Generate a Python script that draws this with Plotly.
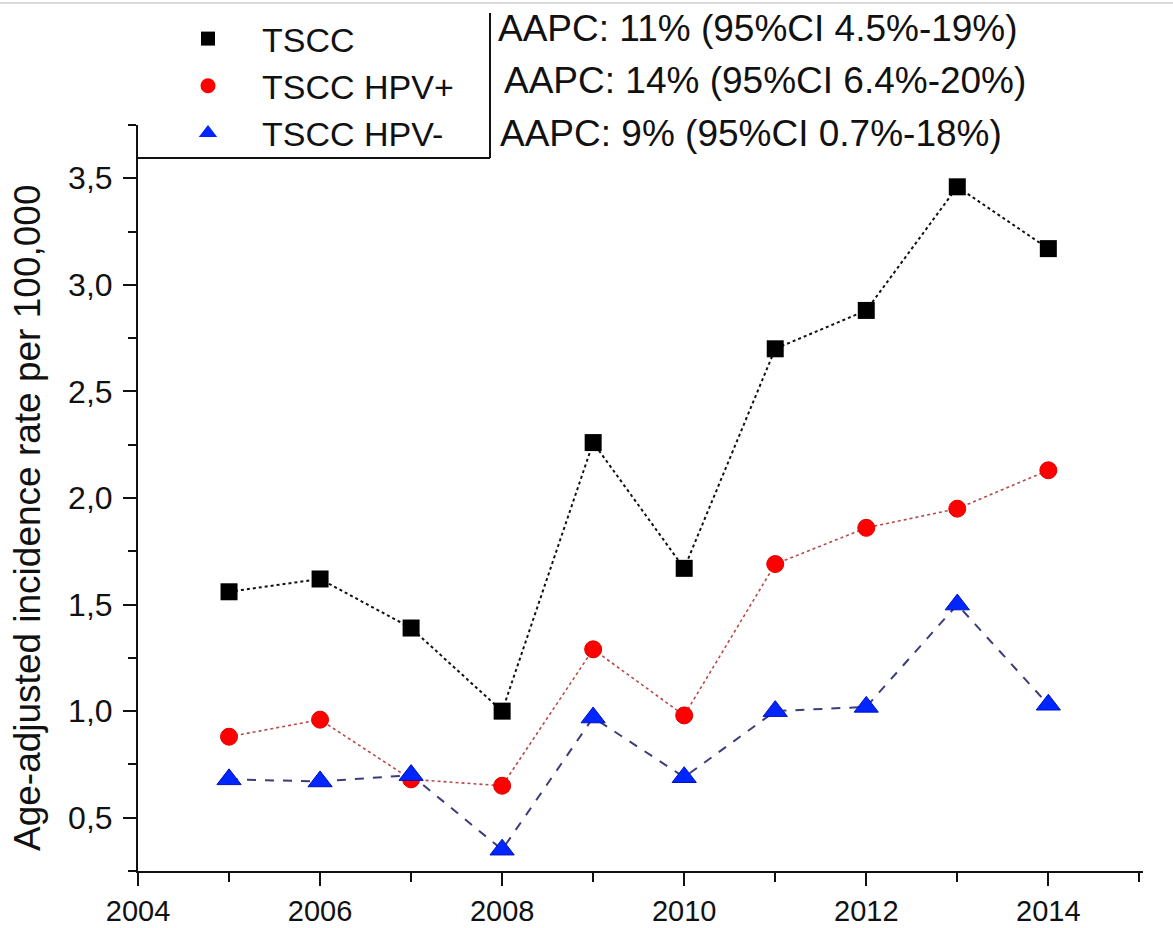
import plotly.graph_objects as go

years = [2005, 2006, 2007, 2008, 2009, 2010, 2011, 2012, 2013, 2014]
tscc = [1.56, 1.62, 1.39, 1.00, 2.26, 1.67, 2.70, 2.88, 3.46, 3.17]
hpv_pos = [0.88, 0.96, 0.68, 0.65, 1.29, 0.98, 1.69, 1.86, 1.95, 2.13]
hpv_neg = [0.68, 0.67, 0.70, 0.35, 0.97, 0.69, 1.00, 1.02, 1.50, 1.03]

series_names = ["TSCC", "TSCC HPV+", "TSCC HPV-"]
aapc_labels = [
    "AAPC: 11% (95%CI 4.5%-19%)",
    "AAPC: 14% (95%CI 6.4%-20%)",
    "AAPC: 9% (95%CI 0.7%-18%)",
]
x_ticks = [2004, 2006, 2008, 2010, 2012, 2014]
y_title = "Age-adjusted incidence rate per 100,000"

FONT = "Liberation Sans, Arial, sans-serif"

fig = go.Figure()

# data traces
fig.add_trace(go.Scatter(
    x=years, y=tscc, mode="lines+markers", showlegend=False,
    line=dict(color="#111111", width=2, dash="dot"),
    marker=dict(symbol="square", size=17, color="#000000"),
))
fig.add_trace(go.Scatter(
    x=years, y=hpv_pos, mode="lines+markers", showlegend=False,
    line=dict(color="#b84a4a", width=1.6, dash="dot"),
    marker=dict(symbol="circle", size=17, color="#ff0000", line=dict(color="#e00000", width=1)),
))
fig.add_trace(go.Scatter(
    x=years, y=hpv_neg, mode="lines+markers", showlegend=False,
    line=dict(color="#3c3c7a", width=2, dash="dash"),
    marker=dict(symbol="triangle-up", size=21, color="#0026ff", line=dict(color="#0010c0", width=1)),
))

# legend entries (markers only)
leg_styles = [
    dict(symbol="square", size=14, color="#000000"),
    dict(symbol="circle", size=15, color="#ff0000"),
    dict(symbol="triangle-up", size=16, color="#0026ff"),
]
for name, mk in zip(series_names, leg_styles):
    fig.add_trace(go.Scatter(x=[None], y=[None], mode="markers", name=name, marker=mk))

# plot area in px: x 138..1143, y 125..871
L, R, T, B = 138, 30, 125, 57
W, H = 1173, 928
pw, ph = W - L - R, H - T - B

def px_x(px):
    return (px - L) / pw

def px_y(py):
    return (H - B - py) / ph

annotations = []
aapc_x = [496, 502, 498]
aapc_y = [28, 80, 133]
for txt, ax_, ay_ in zip(aapc_labels, aapc_x, aapc_y):
    annotations.append(dict(
        text=txt, xref="paper", yref="paper", x=px_x(ax_), y=px_y(ay_),
        xanchor="left", yanchor="middle", showarrow=False,
        font=dict(family=FONT, size=37, color="#111111"),
    ))

annotations.append(dict(
    text=y_title, xref="paper", yref="paper", x=px_x(27), y=px_y(518),
    xanchor="center", yanchor="middle", textangle=-90, showarrow=False,
    font=dict(family=FONT, size=37, color="#111111"),
))

shapes = [
    # legend box lines
    dict(type="line", xref="paper", yref="paper", x0=px_x(490), x1=px_x(490),
         y0=px_y(13), y1=px_y(158), line=dict(color="#111111", width=2)),
    dict(type="line", xref="paper", yref="paper", x0=px_x(138), x1=px_x(490),
         y0=px_y(158), y1=px_y(158), line=dict(color="#111111", width=2)),
    # light border at the top of the image
    dict(type="line", xref="paper", yref="paper", x0=px_x(0), x1=px_x(1173),
         y0=px_y(3), y1=px_y(3), line=dict(color="#d9d9d9", width=2)),
]

fig.update_layout(
    width=W, height=H,
    margin=dict(l=L, r=R, t=T, b=B, autoexpand=False),
    paper_bgcolor="white", plot_bgcolor="white",
    separators=",.",
    font=dict(family=FONT, color="#111111"),
    showlegend=True,
    legend=dict(
        x=px_x(154), y=px_y(10), xanchor="left", yanchor="top",
        font=dict(family=FONT, size=34, color="#111111"),
        itemwidth=98, bgcolor="rgba(0,0,0,0)", borderwidth=0,
        tracegroupgap=0,
    ),
    annotations=annotations,
    shapes=shapes,
)

fig.update_xaxes(
    range=[2004, 2015.04], showgrid=False, zeroline=False,
    showline=True, linecolor="#111111", linewidth=2,
    tickmode="array", tickvals=x_ticks, ticktext=[str(v) for v in x_ticks],
    ticks="outside", ticklen=13, tickwidth=2, tickcolor="#111111",
    tickfont=dict(family=FONT, size=29, color="#111111"),
    ticklabelstandoff=0,
    minor=dict(dtick=1, tick0=2004, ticks="outside", ticklen=9, tickwidth=2, tickcolor="#111111", showgrid=False),
)
fig.update_yaxes(
    range=[0.25, 3.75], showgrid=False, zeroline=False,
    showline=True, linecolor="#111111", linewidth=2,
    tick0=0.5, dtick=0.5, tickformat=".1f",
    ticks="outside", ticklen=13, tickwidth=2, tickcolor="#111111",
    tickfont=dict(family=FONT, size=32, color="#111111"),
    ticklabelstandoff=4,
    minor=dict(dtick=0.25, tick0=0.25, ticks="outside", ticklen=8, tickwidth=2, tickcolor="#111111", showgrid=False),
)

fig.write_html("out.html")
